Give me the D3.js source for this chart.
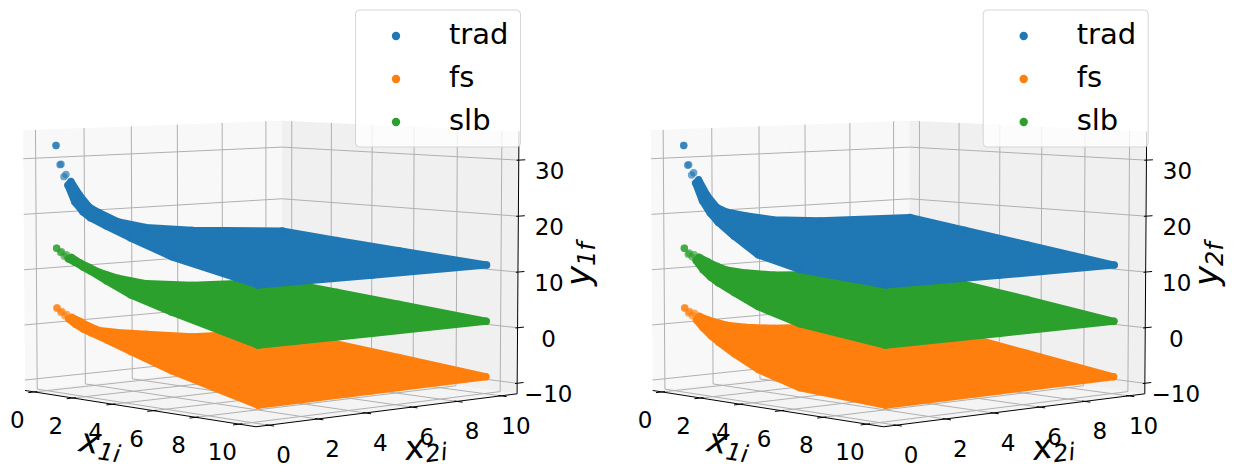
<!DOCTYPE html>
<html lang="en">

<head>
    <meta charset="UTF-8">
    <title>3D scatter</title>
    <script src="https://cdn.jsdelivr.net/npm/d3@7"></script>
    <style>
        * {
            margin: 0;
            padding: 0;
        }

        text {
            font-family: "DejaVu Sans";
            fill: #000;
        }
    </style>
</head>

<body>
    <div id="chart"></div>
    <script>
        const x1Nodes = [0.25, 0.45, 0.65, 0.85, 1.2, 1.6, 2, 2.8, 4, 6, 10];
        const x2Nodes = [0.25, 0.45, 0.65, 0.85, 1.2, 1.6, 2, 2.8, 4, 6, 10.08];
        const farNodes = [0.25, 3, 6, 10];
        const sideNodes = [0.25, 5, 10.08];

        const seriesNames = ['trad', 'fs', 'slb'];
        const seriesColors = ['#1f77b4', '#ff7f0e', '#2ca02c'];
        const axisTicks = [0, 2, 4, 6, 8, 10];
        const zTicks = [-10, 0, 10, 20, 30];

        // left panel, y1f
        const tradLow1 = [32.4, 29, 26.9, 25.4, 22.5, 20.9, 19.9, 18.7, 17, 14.4, 11.1];
        const tradBack1 = [32.4, 29, 27.1, 25.8, 23.3, 21, 19.9, 18, 16.6, 15.5, 14.2];
        const tradFar1 = [14.2, 13.3, 12.4, 11.2];
        const tradSide1 = [11.1, 11.1, 11.2];
        const fsLow1 = [3.1, 2.4, 1.9, 1.4, 0.6, -0.1, -0.6, -1.5, -3, -5.4, -9.1];
        const fsBack1 = [3.1, 2.4, 1.8, 1.2, 0.3, -0.8, -1.7, -2.4, -3.2, -4.5, -5.3];
        const fsFar1 = [-5.3, -6.3, -7.4, -8.9];
        const fsSide1 = [-9.1, -9, -8.9];
        const slbLow1 = [13.9, 13.2, 12.6, 12.2, 11.7, 11, 10.4, 9, 7, 4.8, 1];
        const slbBack1 = [13.9, 13.2, 12.6, 12.1, 11, 10, 9, 7.6, 6.2, 5.2, 4.4];
        const slbFar1 = [4.4, 3.5, 2.5, 1.1];
        const slbSide1 = [1, 1, 1.1];

        // right panel, y2f
        const tradLow2 = [32.4, 28.9, 27.2, 25.8, 22.7, 20.6, 19.1, 16.9, 14, 12.2, 11.1];
        const tradBack2 = [32.4, 28.9, 27.4, 26.1, 23.2, 20.9, 20, 19.1, 18, 17.3, 16.8];
        const tradFar2 = [16.8, 15.2, 13.5, 11.2];
        const tradSide2 = [11.1, 11.1, 11.2];
        const fsLow2 = [3.1, 2.3, 1.9, 1.2, -0.1, -1.3, -2.3, -4, -6.2, -8.3, -9.1];
        const fsBack2 = [3.1, 2.4, 2, 1.4, 0.6, -0.1, -0.7, -1.4, -2.1, -2.6, -3.2];
        const fsFar2 = [-3.2, -4.8, -6.6, -8.9];
        const fsSide2 = [-9.1, -9, -8.9];
        const slbLow2 = [13.9, 12.9, 12.5, 11.9, 10.4, 9.2, 8.3, 6.9, 4.9, 2.8, 1];
        const slbBack2 = [13.9, 13, 12.6, 12.1, 11.2, 10.2, 9.4, 8.6, 7.8, 7.2, 6.6];
        const slbFar2 = [6.6, 5, 3.4, 1.1];
        const slbSide2 = [1, 1, 1.1];

        const svgWidth = 1235;
        const svgHeight = 472;

        const x1Lim = [-0.5, 10.75];
        const x2Lim = [-0.5, 10.75];
        const zLim = [-11.9, 35.1];

        // same camera for both panels
        const elev = 5 * Math.PI / 180;
        const azim = -42 * Math.PI / 180;
        const dist = 10;
        const boxX = 1.143, boxY = 1.143, boxZ = 0.857;

        const x1Scale = d3.scaleLinear().domain(x1Lim).range([-boxX / 2, boxX / 2]);
        const x2Scale = d3.scaleLinear().domain(x2Lim).range([-boxY / 2, boxY / 2]);
        const zScale = d3.scaleLinear().domain(zLim).range([-boxZ / 2, boxZ / 2]);

        // camera plane to pixels
        const screenX = d3.scaleLinear().domain([-0.1, 0.1]).range([270 - 306, 270 + 306]);
        const screenY = d3.scaleLinear().domain([-0.1, 0.1]).range([262 + 306, 262 - 306]);

        function project(x1, x2, z) {
            const px = x1Scale(x1), py = x2Scale(x2), pz = zScale(z);
            const nx = Math.cos(elev) * Math.cos(azim);
            const ny = Math.cos(elev) * Math.sin(azim);
            const nz = Math.sin(elev);
            // right and up vectors of the camera
            const ul = Math.hypot(nx, ny);
            const ux = -ny / ul, uy = nx / ul;
            const vx = -nz * uy, vy = nz * ux, vz = nx * uy - ny * ux;
            const cx = px * ux + py * uy;
            const cy = px * vx + py * vy + pz * vz;
            const cz = px * nx + py * ny + pz * nz;
            return [screenX(cx / (dist - cz)), screenY(cy / (dist - cz))];
        }

        const line = d3.line();

        const svg = d3.select('#chart')
            .append('svg')
            .attr('width', svgWidth)
            .attr('height', svgHeight);

        function drawPanel(offsetX, ySub, surfaces) {
            const g = svg.append('g').attr('transform', `translate(${offsetX},0)`);
            const [xa, xb] = x1Lim, [ya, yb] = x2Lim, [za, zb] = zLim;

            // panes
            const panes = [
                { fill: '#f8f8f8', pts: [[xa, ya, za], [xa, yb, za], [xa, yb, zb], [xa, ya, zb]] },
                { fill: '#f0f0f0', pts: [[xa, yb, za], [xb, yb, za], [xb, yb, zb], [xa, yb, zb]] },
                { fill: '#f4f4f4', pts: [[xa, ya, za], [xb, ya, za], [xb, yb, za], [xa, yb, za]] }
            ];
            g.selectAll('.pane').data(panes).enter().append('path')
                .attr('d', d => line(d.pts.map(p => project(...p))) + 'Z')
                .attr('fill', d => d.fill);

            // grid
            const gridPaths = [];
            axisTicks.forEach(t => {
                gridPaths.push([[t, ya, za], [t, yb, za], [t, yb, zb]]);
                gridPaths.push([[xb, t, za], [xa, t, za], [xa, t, zb]]);
            });
            zTicks.forEach(t => {
                gridPaths.push([[xa, ya, t], [xa, yb, t], [xb, yb, t]]);
            });
            g.selectAll('.grid').data(gridPaths).enter().append('path')
                .attr('d', d => line(d.map(p => project(...p))))
                .attr('fill', 'none')
                .attr('stroke', '#b0b0b0')
                .attr('stroke-width', 1);

            // axis lines and ticks
            const axisPaths = [
                [[xa, ya, za], [xb, ya, za]],
                [[xb, ya, za], [xb, yb, za]],
                [[xb, yb, za], [xb, yb, zb]]
            ];
            axisTicks.forEach(t => {
                axisPaths.push([[t, ya + 0.12, za], [t, ya - 0.25, za]]);
                axisPaths.push([[xb - 0.12, t, za], [xb + 0.25, t, za]]);
            });
            zTicks.forEach(t => {
                axisPaths.push([[xb, yb - 0.1, t], [xb, yb + 0.3, t]]);
            });
            g.selectAll('.axis').data(axisPaths).enter().append('path')
                .attr('d', d => line(d.map(p => project(...p))))
                .attr('fill', 'none')
                .attr('stroke', '#000')
                .attr('stroke-width', 1);

            // tick labels
            const labels = [];
            axisTicks.forEach(t => {
                const a = project(t, ya, za), b = project(xb, t, za);
                labels.push({ x: a[0] - 17, y: a[1] + 36, t: t });
                labels.push({ x: b[0] + 15, y: b[1] + 38, t: t });
            });
            zTicks.forEach(t => {
                const a = project(xb, yb, t);
                labels.push({ x: a[0] + 31, y: a[1] + 19, t: t });
            });
            g.selectAll('.tick').data(labels).enter().append('text')
                .attr('x', d => d.x)
                .attr('y', d => d.y)
                .attr('text-anchor', 'middle')
                .attr('font-size', 23)
                .text(d => String(d.t).replace('-', '\u2212'));

            // surfaces, back to front
            surfaces.forEach(s => {
                const last = x1Nodes.length - 1;
                const low = x1Nodes.map((x, i) => [x, x2Nodes[0], s.low[i]]);
                const side = sideNodes.map((x, i) => [x1Nodes[last], x, s.side[i]]);
                const far = farNodes.map((x, i) => [x, x2Nodes[last], s.far[i]]);
                const back = x2Nodes.map((x, i) => [x1Nodes[0], x, s.back[i]]);

                // the dots run together into a solid sheet past the corner
                const sheet = low.slice(3).concat(side, far.slice().reverse(), back.slice(3).reverse());
                g.append('path')
                    .attr('d', line(sheet.map(p => project(...p))) + 'Z')
                    .attr('fill', s.color)
                    .attr('stroke', s.color)
                    .attr('stroke-width', 7)
                    .attr('stroke-linejoin', 'round');

                g.selectAll(null).data(low.concat(back, far, side)).enter().append('circle')
                    .attr('cx', d => project(...d)[0])
                    .attr('cy', d => project(...d)[1])
                    .attr('r', 3.7)
                    .attr('fill', s.color)
                    .attr('fill-opacity', 0.65);
            });

            // axis titles
            const x1Label = g.append('text')
                .attr('transform', 'translate(78,451) rotate(9)')
                .attr('font-size', 34)
                .attr('font-style', 'italic');
            x1Label.append('tspan').text('x');
            x1Label.append('tspan').attr('font-size', 24).attr('dy', 5).text('1i');

            const x2Label = g.append('text')
                .attr('transform', 'translate(406,460) rotate(-7.4)')
                .attr('font-size', 34)
                .attr('font-style', 'italic');
            x2Label.append('tspan').text('x');
            x2Label.append('tspan').attr('font-size', 24).attr('dy', 5).text('2i');

            const yLabel = g.append('text')
                .attr('transform', 'translate(590,286) rotate(-90)')
                .attr('font-size', 34)
                .attr('font-style', 'italic');
            yLabel.append('tspan').text('y');
            yLabel.append('tspan').attr('font-size', 24).attr('dy', 5).text(ySub);

            // legend
            const legend = g.append('g');
            legend.append('rect')
                .attr('x', 355.5)
                .attr('y', 10)
                .attr('width', 165)
                .attr('height', 137)
                .attr('rx', 4)
                .attr('fill', '#fff')
                .attr('fill-opacity', 0.8)
                .attr('stroke', '#ccc')
                .attr('stroke-opacity', 0.8);
            const rows = legend.selectAll('.row').data(seriesNames).enter().append('g')
                .attr('transform', (d, i) => `translate(0,${36 + i * 43})`);
            rows.append('circle')
                .attr('cx', 396)
                .attr('r', 4.2)
                .attr('fill', (d, i) => seriesColors[i]);
            rows.append('text')
                .attr('x', 449)
                .attr('y', 8)
                .attr('font-size', 29)
                .text(d => d);
        }

        drawPanel(0, '1f', [
            { color: seriesColors[1], low: fsLow1, back: fsBack1, far: fsFar1, side: fsSide1 },
            { color: seriesColors[2], low: slbLow1, back: slbBack1, far: slbFar1, side: slbSide1 },
            { color: seriesColors[0], low: tradLow1, back: tradBack1, far: tradFar1, side: tradSide1 }
        ]);
        drawPanel(627.7, '2f', [
            { color: seriesColors[1], low: fsLow2, back: fsBack2, far: fsFar2, side: fsSide2 },
            { color: seriesColors[2], low: slbLow2, back: slbBack2, far: slbFar2, side: slbSide2 },
            { color: seriesColors[0], low: tradLow2, back: tradBack2, far: tradFar2, side: tradSide2 }
        ]);
    </script>
</body>

</html>
